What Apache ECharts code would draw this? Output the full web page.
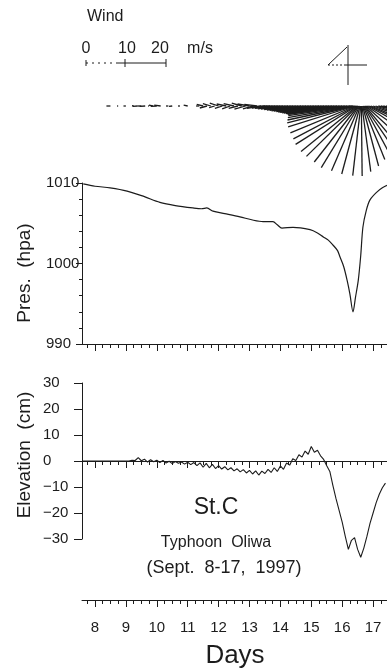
<!DOCTYPE html>
<html>
<head>
<meta charset="utf-8">
<script src="https://cdn.jsdelivr.net/npm/echarts@6/dist/echarts.min.js"></script>
<style>
  html, body { margin: 0; padding: 0; background: #fff; }
  #container { width: 387px; height: 668px; }
</style>
</head>
<body>
<div id="container"></div>
<script>
// day labels on the time axis
var dayTicks = [8, 9, 10, 11, 12, 13, 14, 15, 16, 17];
var quarterTicks = [];
for (var q = 7.75; q <= 17.25; q += 0.25) { quarterTicks.push(+q.toFixed(2)); }

// pressure record (day, hPa)
var presTime = [7.62, 8.0, 8.49, 9.04, 9.6, 10.1, 10.6, 11.17, 11.45, 11.62, 11.82, 12.2, 12.69, 13.1, 13.44, 13.76, 13.9, 14.05, 14.41, 14.96, 15.2, 15.39, 15.55, 15.7, 15.85, 15.93, 16.05, 16.16, 16.25, 16.35, 16.43, 16.52, 16.6, 16.67, 16.78, 16.9, 17.13, 17.3, 17.45];
var presValue = [1009.9, 1009.6, 1009.4, 1009.0, 1008.3, 1007.6, 1007.2, 1006.9, 1006.8, 1006.9, 1006.5, 1006.2, 1005.8, 1005.4, 1005.2, 1005.2, 1004.8, 1004.4, 1004.5, 1004.2, 1003.8, 1003.3, 1002.9, 1002.3, 1001.6, 1000.8, 999.6, 997.9, 996.2, 994.0, 995.8, 997.9, 1001.0, 1004.5, 1006.6, 1007.9, 1008.9, 1009.4, 1009.7];

// sea level elevation (day, cm)
var elevTime = [7.6, 7.7, 7.8, 7.9, 8.0, 8.1, 8.2, 8.3, 8.4, 8.5, 8.6, 8.7, 8.8, 8.9, 9.0, 9.1, 9.2, 9.3, 9.4, 9.5, 9.6, 9.7, 9.8, 9.9, 10.0, 10.1, 10.2, 10.3, 10.4, 10.5, 10.6, 10.7, 10.8, 10.9, 11.0, 11.1, 11.2, 11.3, 11.4, 11.5, 11.6, 11.7, 11.8, 11.9, 12.0, 12.1, 12.2, 12.3, 12.4, 12.5, 12.6, 12.7, 12.8, 12.9, 13.0, 13.1, 13.2, 13.3, 13.4, 13.5, 13.6, 13.7, 13.8, 13.9, 14.0, 14.1, 14.2, 14.3, 14.4, 14.5, 14.6, 14.7, 14.8, 14.9, 15.0, 15.1, 15.2, 15.3, 15.4, 15.5, 15.6, 15.7, 15.8, 15.9, 16.0, 16.1, 16.2, 16.3, 16.4, 16.5, 16.6, 16.7, 16.8, 16.9, 17.0, 17.1, 17.2, 17.3, 17.4];
var elevValue = [0, 0, 0, 0, 0, 0, 0, 0, 0, 0, 0, 0, 0, 0, 0, 0, 0.3, 0.2, 1.3, 0.1, 0.7, -0.4, 0.5, -0.3, 0.3, -0.6, 0.2, -0.8, -0.1, -1.0, -0.2, -0.9, -0.4, -1.2, -0.5, -1.4, -0.6, -1.8, -0.7, -2.4, -0.9, -2.6, -1.3, -2.9, -1.8, -3.1, -2.2, -3.4, -2.6, -3.8, -3.0, -4.2, -3.3, -4.6, -3.6, -5.0, -3.8, -5.4, -3.9, -4.8, -3.2, -4.4, -2.6, -4.0, -1.9, -3.2, -0.8, -1.6, 0.9, 0.2, 2.4, 1.5, 3.8, 2.6, 5.6, 3.4, 4.1, 2.0, 0.6, -1.8, -4.0, -9.5, -14.5, -19, -23.5, -29, -34, -30.5, -29.5, -34, -37, -33.5, -29, -24, -20, -16, -12.8, -10.3, -8.5];

// wind sticks (day, east m/s, north m/s)
var windTime = [8.5, 8.625, 8.75, 8.875, 9.0, 9.125, 9.25, 9.375, 9.5, 9.625, 9.75, 9.875, 10.0, 10.125, 10.25, 10.375, 10.5, 10.625, 10.75, 10.875, 11.0, 11.125, 11.25, 11.375, 11.5, 11.625, 11.75, 11.875, 12.0, 12.125, 12.25, 12.375, 12.5, 12.625, 12.75, 12.875, 13.0, 13.125, 13.25, 13.375,
  13.5, 13.583, 13.667, 13.75, 13.833, 13.917, 14.0, 14.083, 14.167, 14.25, 14.333, 14.417, 14.5, 14.583, 14.667, 14.75, 14.833, 14.917, 15.0, 15.083, 15.167, 15.25, 15.333, 15.417, 15.5, 15.583, 15.667, 15.75, 15.833, 15.917, 16.0, 16.083, 16.167, 16.25, 16.3, 16.34, 16.37,
  16.4, 16.42, 16.44, 16.46, 16.48, 16.5, 16.52, 16.54, 16.56, 16.58, 16.6, 16.62, 16.64, 16.66, 16.68, 16.7, 16.72, 16.74, 16.77, 16.8, 16.84, 16.88, 16.93, 17.0, 17.08, 17.17, 17.25, 17.33, 17.42];
var windU = [-1.0, 0, -0.3, 0, -0.6, 0, -0.4, -1.2, -1.0, -1.4, -0.2, -1.0, -1.5, -1.6, 0, -0.6, -0.8, 0, -0.5, 0, -1.0, 0, 0, -0.8, -1.6, -1.8, -2.0, -1.4, -2.2, -1.9, -2.4, -2.0, -2.6, -2.3, -2.5, -2.8, -3.0, -2.6, -3.2, -3.5,
  -3.6, -3.9, -4.2, -4.4, -4.7, -5.0, -5.2, -5.5, -5.8, -6.0, -6.3, -6.6, -6.9, -7.2, -7.6, -8.0, -8.3, -8.7, -9.0, -9.4, -9.8, -10.2, -10.6, -11.0, -11.4, -11.8, -12.2, -12.6, -13.0, -13.4, -13.8, -14.3, -14.8, -15.4, -15.9, -16.3, -16.6,
  -16.6, -16.2, -15.6, -15.2, -14.0, -12.8, -11.0, -9.4, -7.0, -4.6, -2.0, 0.2, 2.2, 4.0, 5.4, 6.5, 7.0, 7.2, 7.4, 7.5, 7.2, 6.8, 6.2, 5.6, 5.0, 4.4, 3.8, 3.2, 2.6];
var windV = [0, 0, 0, 0, 0, 0, 0.1, -0.1, 0, -0.1, 0, 0.2, -0.1, 0.2, 0, 0, -0.1, 0, 0, 0, 0.2, 0, 0, 0, 0.4, -0.5, 0.6, -0.4, 0.7, -0.6, 0.5, -0.7, 0.6, -0.6, 0.7, -0.8, 0.5, -0.7, 0.4, -0.6,
  -0.3, -0.5, -0.2, -0.6, -0.4, -0.7, -0.5, -0.8, -0.6, -0.9, -0.7, -1.0, -0.8, -1.1, -0.9, -1.2, -1.0, -1.3, -1.1, -1.4, -1.2, -1.5, -1.3, -1.6, -1.4, -1.7, -1.5, -1.8, -1.6, -1.9, -1.8, -2.1, -2.0, -2.4, -2.9, -3.5, -4.2,
  -5.2, -6.7, -8.2, -9.6, -11.4, -12.6, -14.0, -15.4, -16.2, -17.0, -17.4, -17.5, -16.4, -15.0, -13.4, -12.0, -10.2, -8.6, -6.8, -5.2, -4.0, -3.2, -2.6, -2.0, -1.6, -1.2, -1.0, -0.8, -0.6];

var ink = '#1c1c1c';
var font = '"Liberation Sans", Arial, sans-serif';
var X_MIN = 7.58, X_MAX = 17.45;

var presData = presTime.map(function (t, i) { return [t, presValue[i]]; });
var elevData = elevTime.map(function (t, i) { return [t, elevValue[i]]; });
var windData = windTime.map(function (t, i) { return [t, windU[i], windV[i]]; });

function timeAxes(grid, showLine, showLabels) {
    return [
        { type: 'value', gridIndex: grid, min: X_MIN, max: X_MAX, position: 'bottom',
          axisLine: { show: showLine, onZero: false, lineStyle: { color: ink, width: 1 } },
          axisTick: { show: true, customValues: quarterTicks, length: 4, lineStyle: { color: ink } },
          axisLabel: { show: false }, splitLine: { show: false } },
        { type: 'value', gridIndex: grid, min: X_MIN, max: X_MAX, position: 'bottom',
          axisLine: { show: false, onZero: false },
          axisTick: { show: true, customValues: dayTicks, length: 7, lineStyle: { color: ink } },
          axisLabel: { show: showLabels, customValues: dayTicks, margin: 20, color: ink, fontSize: 15, fontFamily: font },
          splitLine: { show: false } }
    ];
}

function hiddenX(grid) {
    return { type: 'value', gridIndex: grid, min: X_MIN, max: X_MAX, show: false };
}

var dom = document.getElementById('container');
var chart = echarts.init(dom, null, { renderer: 'canvas' });

var textStyle = function (txt, size, extra) {
    var s = { text: txt, fill: ink, font: size + 'px ' + font, textAlign: 'center', textVerticalAlign: 'middle' };
    for (var k in extra) { s[k] = extra[k]; }
    return s;
};
var lineStyle = { stroke: ink, lineWidth: 1 };

chart.setOption({
    backgroundColor: '#fff',
    animation: false,
    grid: [
        { left: 82, right: 0, top: 86, height: 100 },
        { left: 82, right: 0, top: 183, height: 161 },
        { left: 82, right: 0, top: 383, height: 156 },
        { left: 82, right: 0, top: 383, height: 78 },
        { left: 82, right: 0, top: 560, height: 40 }
    ],
    xAxis: [hiddenX(0)]
        .concat(timeAxes(1, true, false))
        .concat([hiddenX(2)])
        .concat(timeAxes(3, true, false))
        .concat(timeAxes(4, true, true)),
    yAxis: [
        { type: 'value', gridIndex: 0, min: -20, max: 5, show: false },
        { type: 'value', gridIndex: 1, min: 990, max: 1010, interval: 10,
          axisLine: { show: true, lineStyle: { color: ink } },
          axisTick: { show: true, length: 6, lineStyle: { color: ink } },
          minorTick: { show: true, splitNumber: 5, length: 3, lineStyle: { color: ink } },
          axisLabel: { align: 'left', margin: 36, color: ink, fontSize: 15, fontFamily: font,
                       formatter: function (v) { return String(v); } },
          splitLine: { show: false } },
        { type: 'value', gridIndex: 2, min: -30, max: 30, interval: 10,
          axisLine: { show: true, onZero: false, lineStyle: { color: ink } },
          axisTick: { show: true, length: 8, lineStyle: { color: ink } },
          axisLabel: { align: 'left', margin: 39, color: ink, fontSize: 15, fontFamily: font,
                       formatter: function (v) { return String(v).replace('-', '\u2212'); } },
          splitLine: { show: false } },
        { type: 'value', gridIndex: 3, min: 0, max: 1, show: false },
        { type: 'value', gridIndex: 4, min: 0, max: 1, show: false }
    ],
    series: [
        {
            type: 'custom', xAxisIndex: 0, yAxisIndex: 0, clip: false,
            data: windData,
            encode: { x: 0, y: 2 },
            renderItem: function (params, api) {
                var base = api.coord([api.value(0), 0]);
                var k = api.size([0, 1])[1];
                return {
                    type: 'line',
                    shape: { x1: base[0], y1: base[1], x2: base[0] + api.value(1) * k, y2: base[1] - api.value(2) * k },
                    style: { stroke: ink, lineWidth: 1.3 }
                };
            }
        },
        {
            type: 'line', xAxisIndex: 1, yAxisIndex: 1, data: presData,
            showSymbol: false, smooth: 0.3,
            lineStyle: { color: ink, width: 1.2 }
        },
        {
            type: 'line', xAxisIndex: 3, yAxisIndex: 2, data: elevData,
            showSymbol: false, clip: false,
            lineStyle: { color: ink, width: 1.1 }
        }
    ],
    graphic: [
        { type: 'text', left: 87, top: 9, style: textStyle('Wind', 16, { textAlign: 'left' }) },
        { type: 'text', x: 86, y: 49, style: textStyle('0', 16) },
        { type: 'text', x: 127, y: 49, style: textStyle('10', 16) },
        { type: 'text', x: 160, y: 49, style: textStyle('20', 16) },
        { type: 'text', x: 200, y: 49, style: textStyle('m/s', 16) },
        // velocity scale bar
        { type: 'line', shape: { x1: 86, y1: 60, x2: 86, y2: 66 }, style: lineStyle },
        { type: 'line', shape: { x1: 86, y1: 63, x2: 122, y2: 63 }, style: { stroke: ink, lineWidth: 1, lineDash: [2, 4] } },
        { type: 'line', shape: { x1: 118, y1: 63, x2: 166, y2: 63 }, style: lineStyle },
        { type: 'line', shape: { x1: 125, y1: 59, x2: 125, y2: 67 }, style: lineStyle },
        { type: 'line', shape: { x1: 166, y1: 59, x2: 166, y2: 67 }, style: lineStyle },
        // north arrow
        { type: 'line', shape: { x1: 348, y1: 45, x2: 348, y2: 85 }, style: lineStyle },
        { type: 'line', shape: { x1: 345, y1: 65, x2: 367, y2: 65 }, style: lineStyle },
        { type: 'line', shape: { x1: 347, y1: 47, x2: 328, y2: 65 }, style: lineStyle },
        { type: 'line', shape: { x1: 328, y1: 65, x2: 345, y2: 65 }, style: { stroke: ink, lineWidth: 1, lineDash: [2, 2] } },
        // axis names
        { type: 'text', x: 25, y: 273, rotation: Math.PI / 2, style: textStyle('Pres.  (hpa)', 19) },
        { type: 'text', x: 25, y: 455, rotation: Math.PI / 2, style: textStyle('Elevation  (cm)', 19) },
        { type: 'text', x: 216, y: 508, style: textStyle('St.C', 23) },
        { type: 'text', x: 216, y: 543, style: textStyle('Typhoon  Oliwa', 16) },
        { type: 'text', x: 224, y: 568, style: textStyle('(Sept.  8-17,  1997)', 18) },
        { type: 'text', x: 235, y: 656, style: textStyle('Days', 26) }
    ]
});
</script>
</body>
</html>
